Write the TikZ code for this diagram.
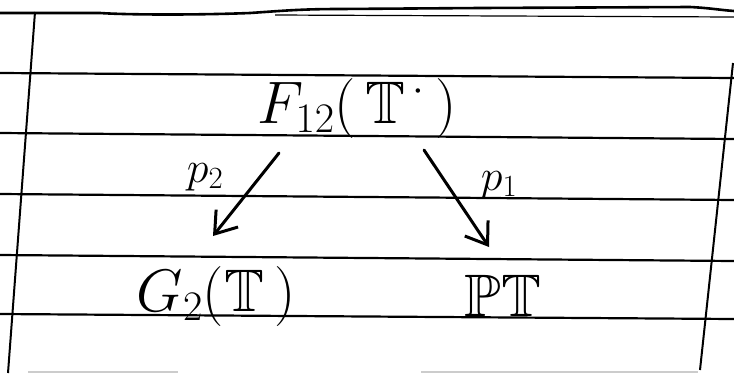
\RequirePackage{fix-cm}
\documentclass[tikz,border=0pt]{standalone}
\usepackage{amssymb}
\usetikzlibrary{arrows.meta,calc}
\begin{document}
\begin{tikzpicture}[x=1pt,y=-1pt,
  rule/.style={line width=2.2pt,black},
  border/.style={line width=2pt,black},
  arr/.style={line width=3pt,line cap=round,-{Straight Barb[length=20pt,width=28pt,line width=3pt]}},
  obj/.style={font=\fontsize{60}{72}\selectfont,inner sep=0pt},
  lab/.style={font=\fontsize{44}{52}\selectfont,inner sep=0pt}]
\useasboundingbox (0,0) rectangle (734,373);
\fill[white] (0,0) rectangle (734,373);
% ruled lines
\draw[rule,line width=2.6pt] (0,13) -- (100,13) .. controls (130,15) and (200,15) .. (250,13)
  .. controls (280,11) and (300,9) .. (340,9) -- (480,8) -- (690,7) .. controls (710,8) and (720,10) .. (734,11);
\draw[line width=1.2pt] (275,15) -- (734,17);
\draw[rule] (0,73) -- (734,78);
\draw[rule] (0,133) -- (734,139);
\draw[rule] (0,194) -- (734,200);
\draw[rule] (0,255) -- (734,261);
\draw[rule] (0,314) -- (734,319);
\draw[gray!40,line width=1.5pt] (28,372) -- (178,372) (421,372) -- (698,372);
% borders
\draw[border] (35,12) -- (8,373);
\draw[border] (733,63) -- (700,370);
% objects
\node[obj] (F) at (357,108) {$F_{12}(\,\mathbb{T}^{\,\cdot}\,)$};
\node[obj] (G) at (216,296) {$G_2(\mathbb{T}\,)$};
\node[obj] (P) at (503,296) {$\mathbb{P}\mathbb{T}$};
\node[lab] (l2) at (205,177) {$p_2$};
\node[lab] (l1) at (499,185) {$p_1$};
% maps
\draw[arr] ($(F.center)+(-78,45)$) -- ($(G.center)+(-3,-60)$);
\draw[arr] ($(F.center)+(67,42)$) -- ($(P.center)+(-14,-49)$);
\end{tikzpicture}
\end{document}
